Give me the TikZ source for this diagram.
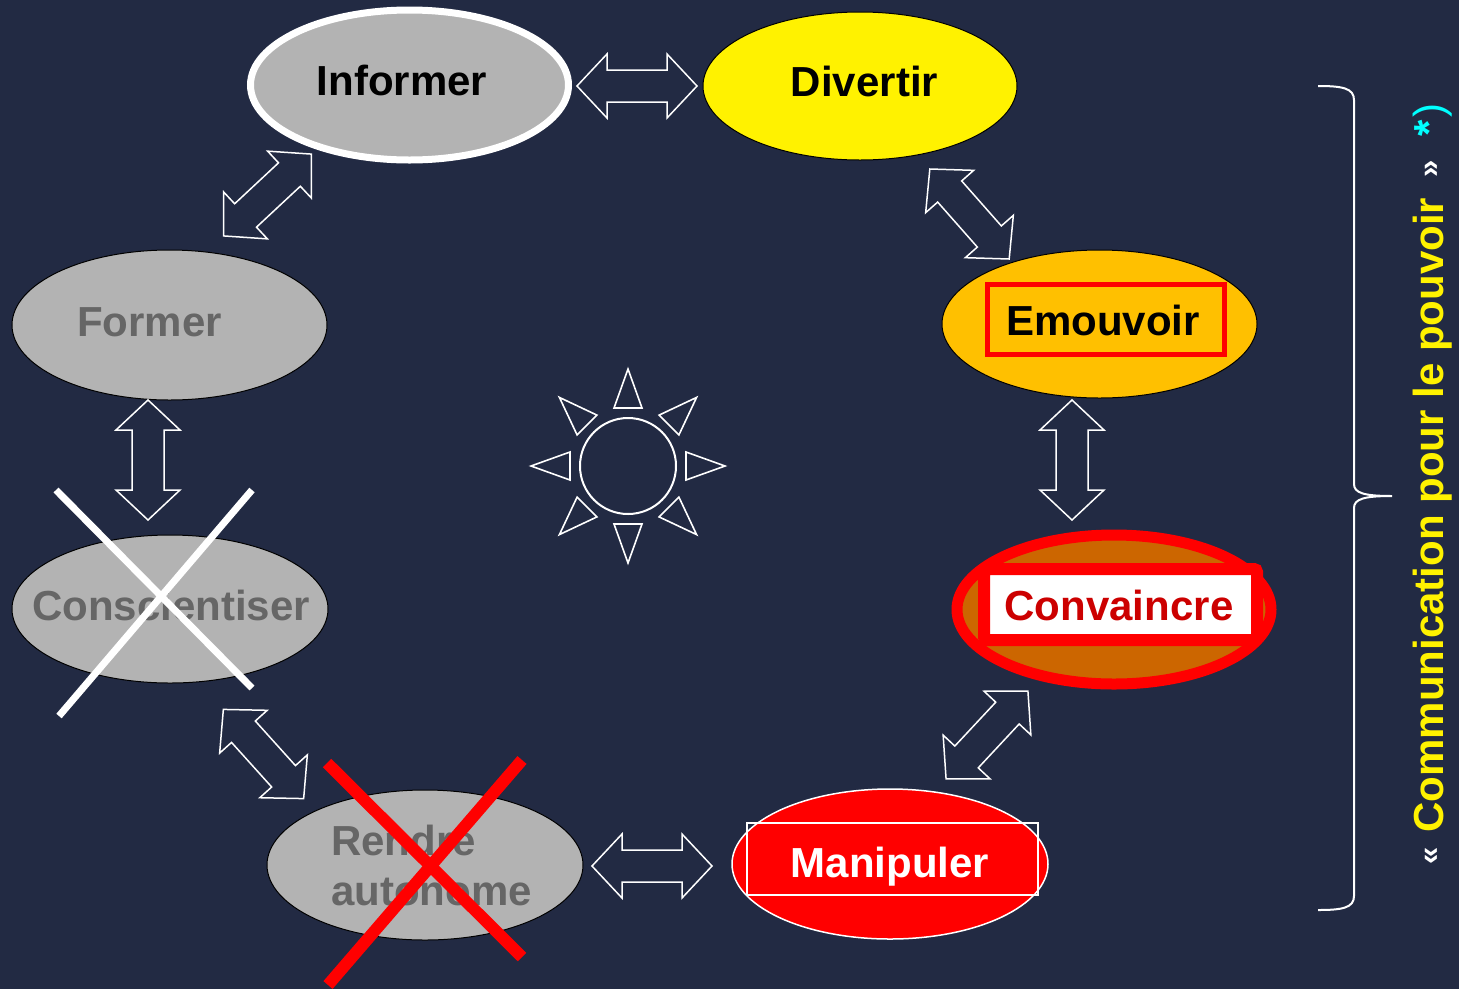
\documentclass[tikz,border=0pt]{standalone}
\usepackage{fontspec}
\setmainfont{Liberation Sans}
\usetikzlibrary{shapes.geometric}
\definecolor{bg}{HTML}{222A43}
\definecolor{lgray}{HTML}{B3B3B3}
\definecolor{dgray}{HTML}{666666}
\definecolor{amber}{HTML}{FFC000}
\definecolor{rust}{HTML}{CC6600}
\definecolor{dred}{HTML}{CC0000}
\definecolor{cyanx}{HTML}{00FFFF}
\begin{document}
\begin{tikzpicture}[x=1pt,y=-1pt,
  blob/.style={ellipse, inner sep=0pt, minimum width=316pt, minimum height=150pt},
  lbl/.style={font=\fontsize{42}{50}\selectfont\bfseries, inner sep=0pt},
  dbl/.pic={\draw[white, line width=1.5pt, line join=miter]
     (-60,0) -- (-30,-32) -- (-30,-16) -- (30,-16) -- (30,-32) -- (60,0)
     -- (30,32) -- (30,16) -- (-30,16) -- (-30,32) -- cycle;},
  cross/.style={line width=#1, line cap=butt}]
% background
\fill[bg] (0,0) rectangle (1459,989);
\useasboundingbox (0,0) rectangle (1459,989);
% ellipses
\node (inf) [blob, fill=lgray, draw=white, line width=7pt, minimum width=318pt] at (409.5,85) {};
\node (div) [blob, fill=yellow, draw=black, line width=1pt, minimum width=314pt, minimum height=148pt] at (860,86) {};
\node (for) [blob, fill=lgray, draw=black, line width=1pt, minimum width=315pt] at (169.5,325) {};
\node (emo) [blob, fill=amber, draw=black, line width=1pt, minimum width=315pt, minimum height=148pt] at (1099.5,324) {};
\node (con) [blob, fill=lgray, draw=black, line width=1pt, minimum width=316pt, minimum height=148pt] at (170,609) {};
\node (cvc) [blob, fill=rust, draw=red, line width=11pt, minimum width=314pt, minimum height=149pt] at (1114,609.5) {};
\node (ren) [blob, fill=lgray, draw=black, line width=1pt] at (425,865) {};
\node (man) [blob, fill=red, draw=white, line width=1.5pt] at (890,864) {};
% rectangles
\draw[red, line width=5pt] (987.5,284.5) rectangle (1224.5,354.5);
\draw[red, fill=white, line width=12pt, rounded corners=3pt] (984,569) rectangle (1257,640);
\draw[white, line width=1.5pt] (747,823) rectangle (1038,895);
% labels
\node (tinf) [lbl, anchor=base, text=black] at (402,95) {Informer};
\node (tdiv) [lbl, anchor=base, text=black] at (864.5,96) {Divertir};
\node (tfor) [lbl, anchor=base, text=dgray] at (149.5,336) {Former};
\node (temo) [lbl, anchor=base, text=black] at (1103,335) {Emouvoir};
\node (tcon) [lbl, anchor=base, text=dgray] at (171,620) {Conscientiser};
\node (tcvc) [lbl, anchor=base, text=dred] at (1119,620) {Convaincre};
\node (tman) [lbl, anchor=base, text=white] at (890,877) {Manipuler};
\node (tren1) [lbl, anchor=base west, text=dgray] at (331,855) {Rendre};
\node (tren2) [lbl, anchor=base west, text=dgray] at (331,905) {autonome};
% double arrows
\pic (a1) at (637,86) {dbl};
\pic (a2) [rotate=43] at (267.5,195) {dbl};
\pic (a3) [rotate=90] at (148,460) {dbl};
\pic (a4) [rotate=-48] at (263.5,754) {dbl};
\pic (a5) at (652,866) {dbl};
\pic (a6) [rotate=47] at (987,735) {dbl};
\pic (a7) [rotate=90] at (1072,460) {dbl};
\pic (a8) [rotate=-48.6] at (969.5,214) {dbl};
% sun
\node (sun) [circle, draw=white, line width=2pt, minimum size=96pt, inner sep=0pt] at (628,466) {};
\begin{scope}[shift={(628,466)}]
\foreach \a in {0,45,...,315}
  \draw[white, line width=1.6pt, line join=miter, rotate=\a] (58,-14) -- (97,0) -- (58,14) -- cycle;
\end{scope}
% crosses
\draw[white, cross=7pt] (56,490) -- (252,688);
\draw[white, cross=7pt] (252,490) -- (59,716);
\draw[red, cross=12pt] (327,763) -- (522,957);
\draw[red, cross=12pt] (522,760) -- (328,985);
% brace
\draw[white, line width=2pt] (1318,86) .. controls (1342,86) and (1354,88) .. (1354,100)
  -- (1354,484) .. controls (1354,493) and (1364,496) .. (1392,496)
  .. controls (1364,496) and (1354,499) .. (1354,508)
  -- (1354,896) .. controls (1354,908) and (1342,910) .. (1318,910);
% side text
\node (side) [rotate=90, anchor=base west, inner sep=0pt] at (1443,865)
 {\raisebox{4pt}{\fontsize{31}{33}\selectfont\bfseries\color{white}«}\hspace{15pt}{\fontsize{42}{50}\selectfont\bfseries\color{yellow}Communication pour le pouvoir}\hspace{20pt}\raisebox{4pt}{\fontsize{31}{33}\selectfont\bfseries\color{white}»}\hspace{24pt}{\fontsize{42}{50}\selectfont\color{cyanx}{\bfseries *}\hspace{3pt})}};
\end{tikzpicture}
\end{document}
